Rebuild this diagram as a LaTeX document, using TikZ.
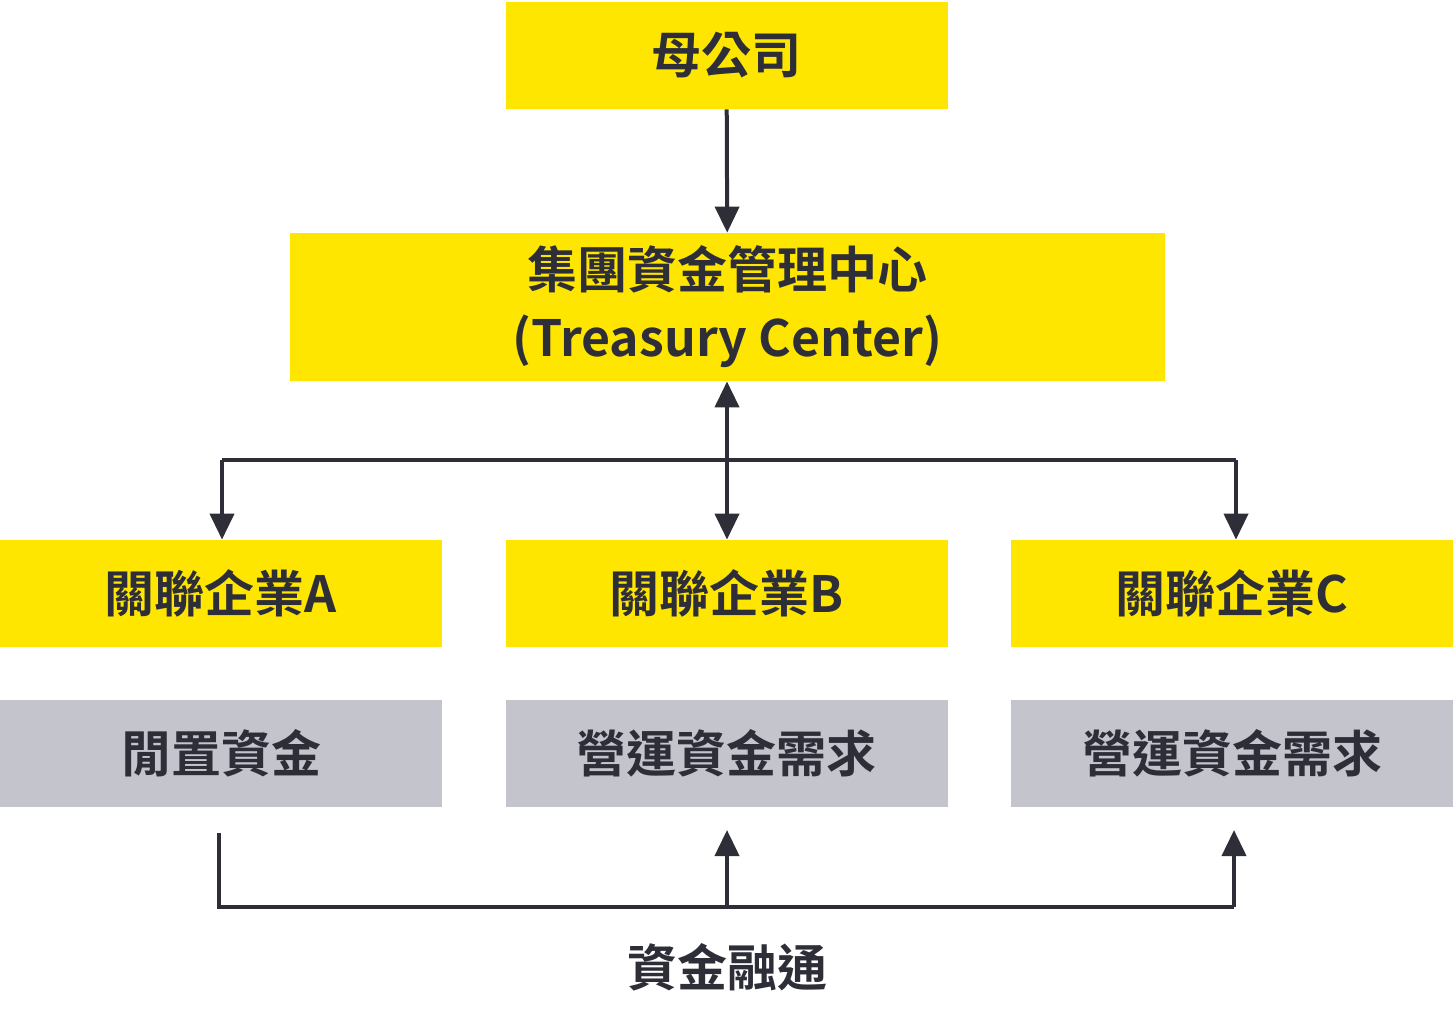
\documentclass[tikz,border=0pt]{standalone}
\usepackage{fontspec}
\setmainfont{Noto Sans CJK TC}[BoldFont={Noto Sans CJK TC Bold}]
\usepackage{tikz}
\usetikzlibrary{arrows.meta, positioning}
\definecolor{BrandYellow}{HTML}{FFE600}
\definecolor{PanelGray}{HTML}{C4C4CD}
\definecolor{InkDark}{HTML}{2E2E38}
\tikzset{
  % Box styles
  yellowbox/.style={rectangle, draw=none, fill=BrandYellow, text=InkDark, minimum width=221pt, minimum height=53.5pt, font=\fontsize{25}{30}\selectfont\bfseries, align=center, inner sep=0pt},
  graybox/.style={yellowbox, fill=PanelGray},
  % Arrow styles
  arrow/.style={-{Triangle[length=13pt,width=12pt]}, line width=2pt, InkDark},
  line/.style={line width=2pt, InkDark}
}
\begin{document}
\begin{tikzpicture}[x=0.5pt, y=-0.5pt]
  \useasboundingbox (0,0) rectangle (1454,1032);
  % Top levels
  \node[yellowbox] (parent) at (726.5,55.5) {母公司};
  \node[yellowbox, minimum width=437.5pt, minimum height=74pt, font=\fontsize{25}{34}\selectfont\bfseries] (tc) at (727.5,307) {集團資金管理中心\\(Treasury Center)};

  % Affiliates
  \node[yellowbox] (coA) at (221,593.5) {關聯企業A};
  \node[yellowbox] (coB) at (726.5,593.5) {關聯企業B};
  \node[yellowbox] (coC) at (1232,593.5) {關聯企業C};

  \node[graybox] (fundA) at (221,753.5) {閒置資金};
  \node[graybox] (fundB) at (726.5,753.5) {營運資金需求};
  \node[graybox] (fundC) at (1232,753.5) {營運資金需求};

  % Connectors
  \coordinate (split) at (727,460);
  \draw[arrow] (parent) -- (tc);
  \draw[arrow, {Triangle[length=13pt,width=12pt]}-{Triangle[length=13pt,width=12pt]}] (tc.south -| split) -- (coB.north -| split);
  \draw[arrow] (222,460) -- (coA.north -| 222,0);
  \draw[arrow] (1236,460) -- (coC.north -| 1236,0);
  \draw[line] (222,460) -- (1236,460);

  \coordinate (srcA) at (219,833);
  \coordinate (joint) at (727,907);
  \draw[line] (srcA) |- (1234,907);
  \draw[arrow] (joint) -- (727,830);
  \draw[arrow] (1234,907) -- (1234,830);
  \node[text=InkDark, font=\fontsize{25}{30}\selectfont\bfseries] (flow) at (727,967) {資金融通};
\end{tikzpicture}
\end{document}
